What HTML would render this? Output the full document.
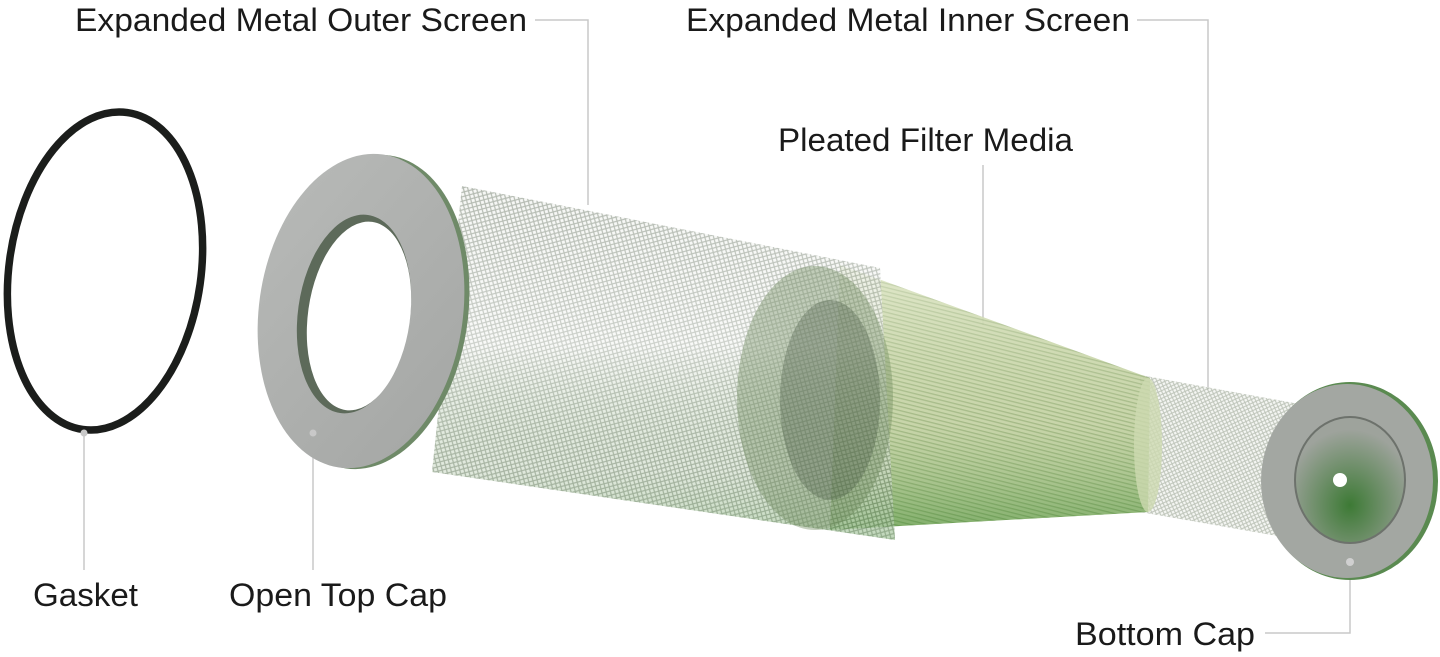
<!DOCTYPE html>
<html><head><meta charset="utf-8"><style>
html,body{margin:0;padding:0;background:#fff;width:1440px;height:657px;overflow:hidden}
svg{display:block}
text{font-family:"Liberation Sans",sans-serif;font-size:32px;fill:#1a1a1a}
</style></head><body>
<svg width="1440" height="657" viewBox="0 0 1440 657" xmlns="http://www.w3.org/2000/svg">
<defs>
<pattern id="mesh" width="6" height="6" patternUnits="userSpaceOnUse" patternTransform="rotate(30)">
<rect width="6" height="6" fill="#f1f3ef"/>
<path d="M0 0L6 6M6 0L0 6" stroke="#8a9486" stroke-width="1.2"/>
</pattern>
<pattern id="mesh2" width="5" height="5" patternUnits="userSpaceOnUse" patternTransform="rotate(20)">
<rect width="5" height="5" fill="#f2f4f0"/>
<path d="M0 0L5 5M5 0L0 5" stroke="#aeb6a8" stroke-width="1"/>
</pattern>
<pattern id="pleat" width="4" height="4" patternUnits="userSpaceOnUse" patternTransform="rotate(14)">
<rect width="4" height="4" fill="#c6d4a6"/>
<rect width="4" height="1.3" fill="#8aa56a"/>
</pattern>
<linearGradient id="mediaG" x1="0" y1="0" x2="0" y2="1">
<stop offset="0" stop-color="#eef2dc" stop-opacity=".6"/>
<stop offset=".6" stop-color="#b7c993" stop-opacity=".3"/>
<stop offset="1" stop-color="#3f8a2e" stop-opacity=".55"/>
</linearGradient>
<linearGradient id="meshG" x1="0" y1="0" x2="0" y2="1">
<stop offset="0" stop-color="#fff" stop-opacity="0"/>
<stop offset=".45" stop-color="#fff" stop-opacity=".35"/>
<stop offset=".8" stop-color="#6a9a5a" stop-opacity=".15"/>
<stop offset="1" stop-color="#3f8a2e" stop-opacity=".3"/>
</linearGradient>
<linearGradient id="capG" x1="0" y1="0" x2="1" y2="1">
<stop offset="0" stop-color="#b8bab8"/><stop offset="1" stop-color="#a4a6a4"/>
</linearGradient>
<radialGradient id="bcG" cx=".5" cy=".7" r=".6">
<stop offset="0" stop-color="#3d7a35"/><stop offset="1" stop-color="#9ea39c"/>
</radialGradient>
</defs>

<g stroke="#c8c8c8" stroke-width="1.5" fill="none">
<polyline points="535,20 588,20 588,205"/>
<polyline points="1137,20 1208,20 1208,390"/>
<line x1="983" y1="165" x2="983" y2="325"/>
<line x1="84" y1="433" x2="84" y2="570"/>
<line x1="313" y1="433" x2="313" y2="570"/>
<polyline points="1265,633 1350,633 1350,562"/>
</g>

<ellipse cx="105" cy="271" rx="96" ry="160" transform="rotate(8 105 271)" fill="none" stroke="#1b1d1b" stroke-width="7.5"/>

<path d="M1140,375 L1305,405 L1300,540 L1140,512 Z" fill="url(#mesh2)" opacity=".8"/>

<path d="M840,265 L1150,378 L1148,512 L830,530 Z" fill="url(#pleat)" opacity=".85"/>
<path d="M840,265 L1150,378 L1148,512 L830,530 Z" fill="url(#mediaG)"/>
<ellipse cx="1148" cy="445" rx="14" ry="67" fill="#cdd9b0" opacity=".8"/>

<path d="M462,186 L880,268 L895,540 L432,472 Z" fill="url(#mesh)" opacity=".65"/>
<path d="M462,186 L880,268 L895,540 L432,472 Z" fill="url(#meshG)"/>
<ellipse cx="815" cy="398" rx="78" ry="132" fill="#6d8a5c" opacity=".4"/>
<ellipse cx="830" cy="400" rx="50" ry="100" fill="#3f4e3c" opacity=".3"/>

<ellipse cx="368" cy="312" rx="100" ry="158" transform="rotate(8 368 312)" fill="#6f8a68"/>
<ellipse cx="361" cy="311" rx="102" ry="158" transform="rotate(8 361 311)" fill="url(#capG)"/>
<ellipse cx="354" cy="314" rx="56" ry="100" transform="rotate(8 354 314)" fill="#5d6a5a"/>
<ellipse cx="359" cy="316" rx="51" ry="95" transform="rotate(8 359 316)" fill="#fff"/>
<circle cx="313" cy="433" r="3.5" fill="#c8c8c8"/>

<ellipse cx="1350" cy="481" rx="88" ry="99" fill="#5a8a50"/>
<ellipse cx="1347" cy="481" rx="86" ry="97" fill="#a3a7a2"/>
<ellipse cx="1350" cy="480" rx="55" ry="63" fill="url(#bcG)" stroke="#6d726c" stroke-width="2"/>
<circle cx="1340" cy="480" r="7" fill="#fff"/>
<circle cx="1350" cy="562" r="4" fill="#d0d0d0"/>
<circle cx="84" cy="433" r="3.5" fill="#c8c8c8"/>

<text x="75" y="31" textLength="452" lengthAdjust="spacingAndGlyphs">Expanded Metal Outer Screen</text>
<text x="686" y="31" textLength="444" lengthAdjust="spacingAndGlyphs">Expanded Metal Inner Screen</text>
<text x="778" y="151" textLength="295" lengthAdjust="spacingAndGlyphs">Pleated Filter Media</text>
<text x="33" y="606" textLength="105" lengthAdjust="spacingAndGlyphs">Gasket</text>
<text x="229" y="606" textLength="218" lengthAdjust="spacingAndGlyphs">Open Top Cap</text>
<text x="1075" y="645" textLength="180" lengthAdjust="spacingAndGlyphs">Bottom Cap</text>
</svg>
</body></html>
